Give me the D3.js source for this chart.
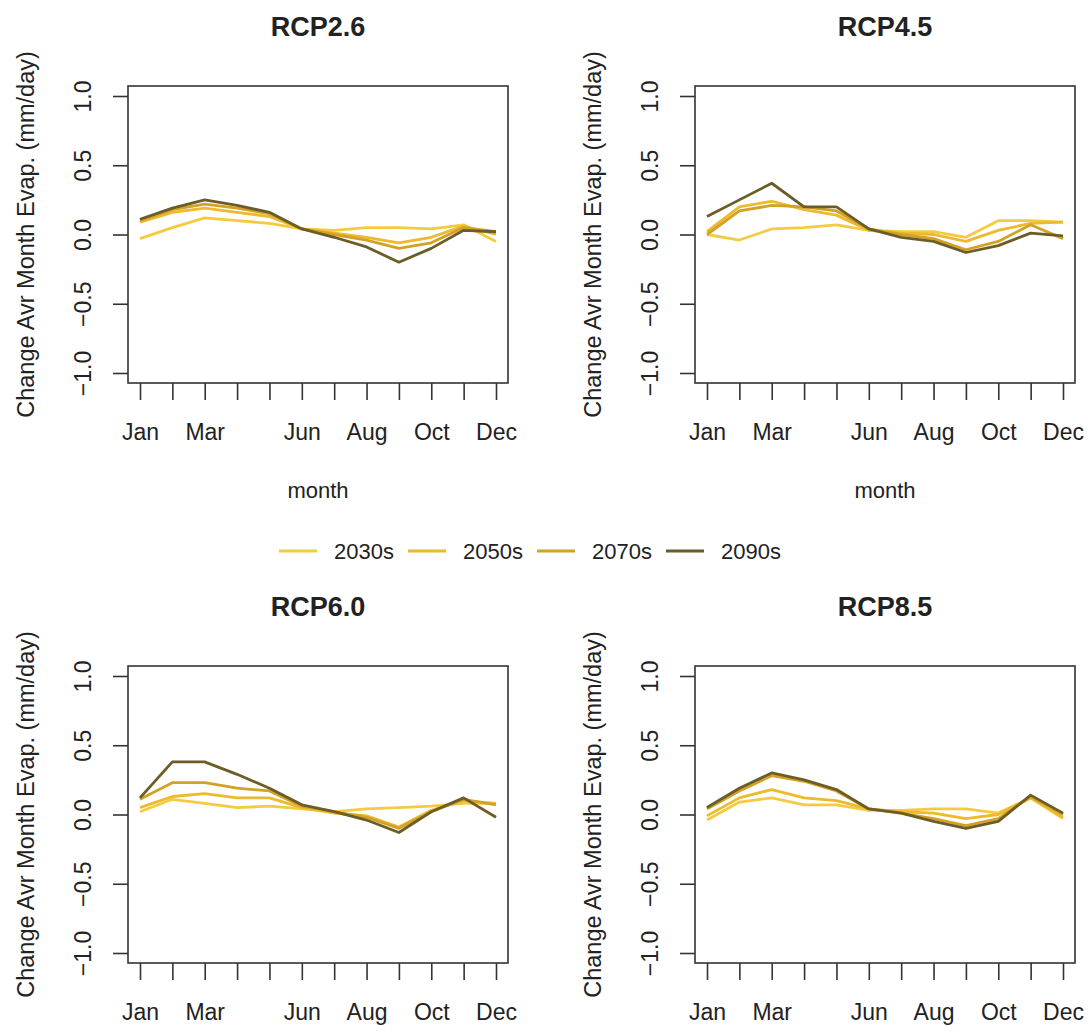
<!DOCTYPE html>
<html lang="en">
<head>
<meta charset="utf-8">
<title>Change in Average Monthly Evaporation</title>
<script src="https://d3js.org/d3.v7.min.js"></script>
<style>
  html, body { margin: 0; padding: 0; background: #fff; }
  svg text { font-family: "Liberation Sans", Arial, sans-serif; fill: #222; }
</style>
</head>
<body>
<svg id="chart" width="1088" height="1034"></svg>
<script>
// month axis
var months = ["Jan", "Feb", "Mar", "Apr", "May", "Jun", "Jul", "Aug", "Sep", "Oct", "Nov", "Dec"];
var labelledMonths = ["Jan", "Mar", "Jun", "Aug", "Oct", "Dec"];
var yTicks = [-1.0, -0.5, 0.0, 0.5, 1.0];

var periods = ["2030s", "2050s", "2070s", "2090s"];
var periodColors = ["#F4CB40", "#ECBA2C", "#D3A224", "#6C5C27"];

var scenarios = ["RCP2.6", "RCP4.5", "RCP6.0", "RCP8.5"];

// change in average monthly evaporation (mm/day), Jan..Dec
var rcp26 = [
  [-0.03, 0.05, 0.12, 0.10, 0.08, 0.04, 0.03, 0.05, 0.05, 0.04, 0.07, -0.05],
  [0.09, 0.16, 0.19, 0.16, 0.13, 0.04, 0.01, -0.02, -0.06, -0.02, 0.06, 0.00],
  [0.10, 0.18, 0.22, 0.19, 0.15, 0.04, 0.00, -0.04, -0.10, -0.06, 0.05, 0.02],
  [0.11, 0.19, 0.25, 0.21, 0.16, 0.04, -0.02, -0.09, -0.20, -0.10, 0.03, 0.02]
];
var rcp45 = [
  [0.00, -0.04, 0.04, 0.05, 0.07, 0.03, 0.02, 0.02, -0.02, 0.10, 0.10, 0.09],
  [0.02, 0.20, 0.24, 0.18, 0.14, 0.03, 0.01, 0.00, -0.05, 0.03, 0.08, 0.09],
  [0.00, 0.17, 0.21, 0.20, 0.17, 0.04, 0.00, -0.03, -0.11, -0.05, 0.07, -0.03],
  [0.13, 0.25, 0.37, 0.20, 0.20, 0.04, -0.02, -0.05, -0.13, -0.08, 0.01, -0.01]
];
var rcp60 = [
  [0.02, 0.11, 0.08, 0.05, 0.06, 0.04, 0.02, 0.04, 0.05, 0.06, 0.08, 0.08],
  [0.05, 0.13, 0.15, 0.12, 0.12, 0.05, 0.01, -0.01, -0.09, 0.03, 0.10, 0.08],
  [0.11, 0.23, 0.23, 0.19, 0.17, 0.06, 0.02, -0.02, -0.10, 0.02, 0.11, 0.07],
  [0.12, 0.38, 0.38, 0.29, 0.19, 0.07, 0.02, -0.04, -0.13, 0.02, 0.12, -0.02]
];
var rcp85 = [
  [-0.04, 0.09, 0.12, 0.07, 0.07, 0.03, 0.03, 0.04, 0.04, 0.01, 0.12, -0.03],
  [-0.01, 0.12, 0.18, 0.12, 0.10, 0.04, 0.02, 0.01, -0.03, 0.00, 0.12, -0.02],
  [0.04, 0.17, 0.28, 0.24, 0.17, 0.04, 0.01, -0.03, -0.08, -0.03, 0.13, 0.00],
  [0.05, 0.19, 0.30, 0.25, 0.18, 0.04, 0.01, -0.05, -0.10, -0.05, 0.14, 0.01]
];
var scenarioValues = [rcp26, rcp45, rcp60, rcp85];

var svg = d3.select("#chart");

// panel geometry (plot box)
var boxW = 380, boxH = 297;
var colLeft = [128, 695], rowTop = [86, 666];

var x = d3.scaleLinear().domain([1, 12]).range([12, 368]);
var y = d3.scaleLinear().domain([-1, 1]).range([287, 10]);

var line = d3.line()
  .x(function (d, i) { return x(i + 1); })
  .y(function (d) { return y(d); });

scenarios.forEach(function (name, k) {
  var row = Math.floor(k / 2);
  var g = svg.append("g")
    .attr("transform", "translate(" + colLeft[k % 2] + "," + rowTop[row] + ")");

  // series, earliest period first so 2090s sits on top
  scenarioValues[k].forEach(function (vals, p) {
    g.append("path")
      .datum(vals)
      .attr("d", line)
      .attr("fill", "none")
      .attr("stroke", periodColors[p])
      .attr("stroke-width", 2.8)
      .attr("stroke-linejoin", "round");
  });

  g.append("rect")
    .attr("width", boxW).attr("height", boxH)
    .attr("fill", "none").attr("stroke", "#333").attr("stroke-width", 1.6);

  // x axis: a tick per month, labels on a subset
  var xa = g.append("g")
    .attr("transform", "translate(0," + boxH + ")")
    .call(d3.axisBottom(x)
      .tickValues(d3.range(1, 13))
      .tickSize(17)
      .tickPadding(24)
      .tickFormat(function (d) {
        var m = months[d - 1];
        return labelledMonths.indexOf(m) >= 0 ? m : "";
      }));
  xa.select(".domain").remove();
  xa.selectAll("line").attr("stroke", "#333").attr("stroke-width", 1.6);
  xa.selectAll("text").style("font-size", "23px").attr("fill", "#222");

  // y axis, labels rotated parallel to the axis
  var ya = g.append("g")
    .call(d3.axisLeft(y)
      .tickValues(yTicks)
      .tickSize(15)
      .tickFormat(d3.format(".1f")));
  ya.select(".domain").remove();
  ya.selectAll("line").attr("stroke", "#333").attr("stroke-width", 1.6);
  ya.selectAll("text")
    .attr("x", null).attr("dy", null)
    .attr("text-anchor", "middle")
    .attr("dominant-baseline", "central")
    .attr("transform", "translate(-45,0) rotate(-90)")
    .style("font-size", "23px")
    .attr("fill", "#222");

  g.append("text")
    .attr("x", boxW / 2).attr("y", -50)
    .attr("text-anchor", "middle")
    .style("font-size", "27px").style("font-weight", "bold")
    .text(name);

  g.append("text")
    .attr("transform", "translate(-102," + boxH / 2 + ") rotate(-90)")
    .attr("text-anchor", "middle")
    .attr("dominant-baseline", "central")
    .style("font-size", "23.5px")
    .text("Change Avr Month Evap. (mm/day)");

  // x-axis title only fits under the top row
  if (row === 0) {
    g.append("text")
      .attr("x", x(6.5)).attr("y", boxH + 115)
      .attr("text-anchor", "middle")
      .style("font-size", "22px")
      .text("month");
  }
});

// shared legend between the two rows
var legend = svg.append("g").attr("transform", "translate(279,551)");
periods.forEach(function (p, i) {
  var item = legend.append("g").attr("transform", "translate(" + (i * 129) + ",0)");
  item.append("line")
    .attr("x1", 0).attr("x2", 38)
    .attr("stroke", periodColors[i]).attr("stroke-width", 3);
  item.append("text")
    .attr("x", 55).attr("dominant-baseline", "central")
    .style("font-size", "22px")
    .text(p);
});
</script>
</body>
</html>
